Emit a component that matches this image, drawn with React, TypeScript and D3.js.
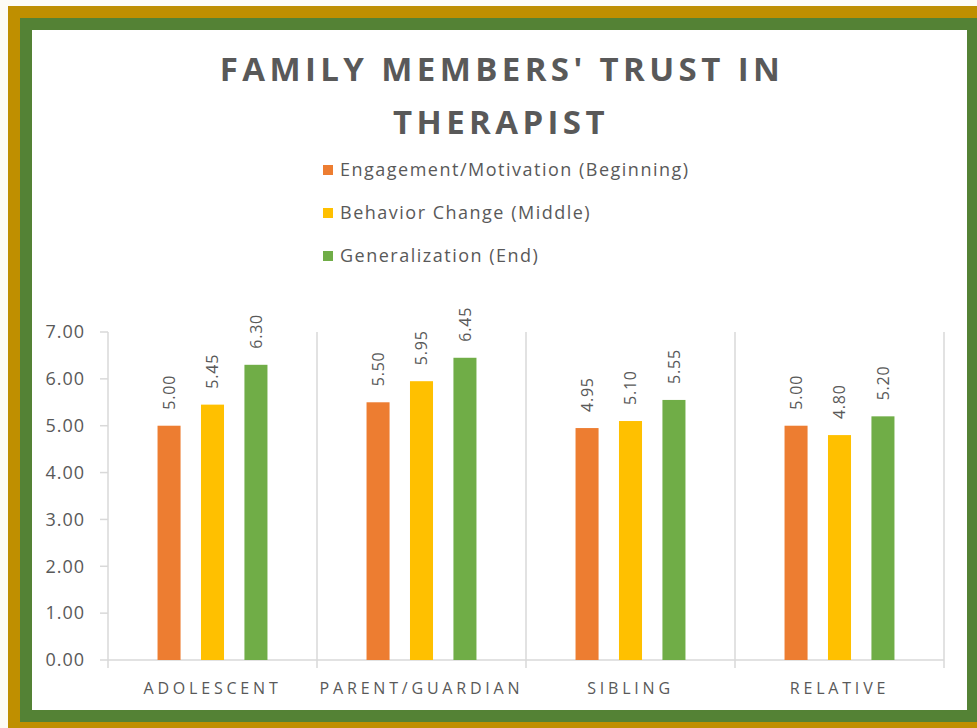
import * as d3 from "d3";

const categories = ["ADOLESCENT", "PARENT/GUARDIAN", "SIBLING", "RELATIVE"];
const seriesNames = [
  "Engagement/Motivation (Beginning)",
  "Behavior Change (Middle)",
  "Generalization (End)",
];
const seriesColors = ["#ED7D31", "#FFC000", "#70AD47"];
const beginning = [5.0, 5.5, 4.95, 5.0];
const middle = [5.45, 5.95, 5.1, 4.8];
const end = [6.3, 6.45, 5.55, 5.2];
const yTicks = [0, 1, 2, 3, 4, 5, 6, 7];

const width = 977;
const height = 728;
const plot = { left: 108, right: 944, top: 332, bottom: 660 };
const font = "'Open Sans', sans-serif";
const textColor = "#595959";
const axisColor = "#d9d9d9";

export default function App() {
  const series = [beginning, middle, end];
  const x0 = d3.scaleBand<string>().domain(categories).range([plot.left, plot.right]).padding(0);
  const x1 = d3
    .scaleBand<string>()
    .domain(seriesNames)
    .range([0, x0.bandwidth()])
    .paddingInner(0.47)
    .paddingOuter(1.14);
  const y = d3.scaleLinear().domain([0, 7]).range([plot.bottom, plot.top]);
  const dividers = [...categories.map((c) => x0(c) ?? 0), plot.right];

  return (
    <div>
      <style>{`body{margin:0}`}</style>
      <svg width={width} height={height} style={{ display: "block", background: "#fdfcf5" }}>
        <rect x={8} y={6} width={width} height={height} fill="#BF8F00" />
        <rect x={20} y={18} width={width} height={704} fill="#548235" />
        <rect x={32} y={30} width={935} height={680} fill="#ffffff" />

        <text x={502} y={81} textAnchor="middle" fontFamily={font} fontWeight={700} fontSize={33} letterSpacing={4.4} fill={textColor}>
          FAMILY MEMBERS' TRUST IN
        </text>
        <text x={501} y={134} textAnchor="middle" fontFamily={font} fontWeight={700} fontSize={33} letterSpacing={4.4} fill={textColor}>
          THERAPIST
        </text>

        {seriesNames.map((name, i) => (
          <g key={name} transform={`translate(323, ${165 + i * 43})`}>
            <rect width={10} height={10} fill={seriesColors[i]} />
            <text x={17} y={11} fontFamily={font} fontSize={18} letterSpacing={1.5} fill={textColor}>
              {name}
            </text>
          </g>
        ))}

        {dividers.map((d, i) => (
          <line key={`div-${i}`} x1={d} x2={d} y1={plot.top} y2={plot.bottom + 8} stroke={axisColor} strokeWidth={1.5} />
        ))}
        <line x1={plot.left} x2={plot.right} y1={plot.bottom} y2={plot.bottom} stroke={axisColor} strokeWidth={1.5} />
        {yTicks.map((t) => (
          <g key={`y-${t}`}>
            <line x1={plot.left - 8} x2={plot.left} y1={y(t)} y2={y(t)} stroke={axisColor} strokeWidth={1.5} />
            <text x={plot.left - 23} y={y(t)} dy="0.35em" textAnchor="end" fontFamily={font} fontSize={18} letterSpacing={1} fill={textColor}>
              {t.toFixed(2)}
            </text>
          </g>
        ))}

        {categories.map((cat, ci) => (
          <g key={cat} transform={`translate(${x0(cat)}, 0)`}>
            {series.map((values, si) => {
              const bx = x1(seriesNames[si]) ?? 0;
              const cx = bx + x1.bandwidth() / 2;
              return (
                <g key={seriesNames[si]}>
                  <rect x={bx} y={y(values[ci])} width={x1.bandwidth()} height={plot.bottom - y(values[ci])} fill={seriesColors[si]} />
                  <text
                    transform={`translate(${cx}, ${y(values[ci]) - 16}) rotate(-90)`}
                    dy="0.35em"
                    fontFamily={font}
                    fontSize={16}
                    letterSpacing={0.8}
                    fill={textColor}
                  >
                    {values[ci].toFixed(2)}
                  </text>
                </g>
              );
            })}
            <text x={x0.bandwidth() / 2} y={694} textAnchor="middle" fontFamily={font} fontSize={16} letterSpacing={3.8} fill={textColor}>
              {cat}
            </text>
          </g>
        ))}
      </svg>
    </div>
  );
}
